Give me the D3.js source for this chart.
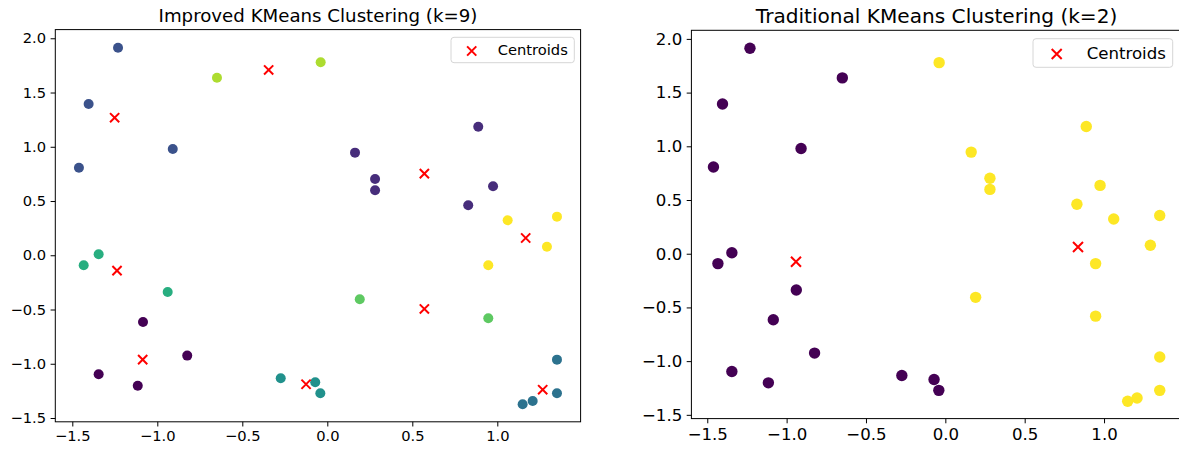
<!DOCTYPE html>
<html>
<head>
<meta charset="utf-8">
<script src="https://cdn.jsdelivr.net/npm/d3@7"></script>
<style>
    body { margin: 0; background: #fff; }
    svg { display: block; font-family: "DejaVu Sans", sans-serif; }
    .tick line { stroke: #000; stroke-width: 1; }
    .tick text { fill: #000; }
</style>
</head>
<body>
<svg width="1179" height="451"></svg>
<script>
const width = 1179;
const height = 451;

// data points (same points in both panels)
const xVals = [-1.231, -1.404, -1.461, -0.909, -0.649, -0.039, 0.888, 0.163,
    0.281, 0.281, 0.975, 0.829, 1.061, 1.351, 1.292, 0.947,
    0.191, 0.947, 1.351, 1.351, 1.208, 1.149, -0.071, -0.041,
    -0.274, -1.345, -1.433, -0.939, -1.084, -0.824, -1.345, -1.115];
const yVals = [1.913, 1.394, 0.807, 0.980, 1.637, 1.779, 1.185, 0.946,
    0.703, 0.599, 0.636, 0.461, 0.323, 0.356, 0.079, -0.092,
    -0.406, -0.581, -0.962, -1.272, -1.343, -1.373, -1.171, -1.272,
    -1.134, 0.009, -0.092, -0.338, -0.615, -0.925, -1.097, -1.202];

// cluster labels
const improvedLabels = [2, 2, 2, 2, 7, 7, 1, 1, 1, 1, 1, 1, 8, 8, 8, 8,
    6, 6, 3, 3, 3, 3, 4, 4, 4, 5, 5, 5, 0, 0, 0, 0];
const traditionalLabels = [0, 0, 0, 0, 0, 1, 1, 1, 1, 1, 1, 1, 1, 1, 1, 1,
    1, 1, 1, 1, 1, 1, 0, 0, 0, 0, 0, 0, 0, 0, 0, 0];

// centroids
const improvedCx = [-1.251, -0.345, 0.571, 1.167, 0.571, 1.267, -0.125, -1.237, -1.086];
const improvedCy = [1.268, 1.708, 0.752, 0.159, -0.495, -1.239, -1.189, -0.142, -0.962];
const traditionalCx = [-0.941, 0.836];
const traditionalCy = [-0.074, 0.062];

// axis ticks
const xTicks = [-1.5, -1.0, -0.5, 0.0, 0.5, 1.0];
const yTicks = [-1.5, -1.0, -0.5, 0.0, 0.5, 1.0, 1.5, 2.0];
const xDomain = [-1.6, 1.49];
const yDomain = [-1.535, 2.08];

const svg = d3.select("svg");

const panels = [
    {
        title: "Improved KMeans Clustering (k=9)",
        labels: improvedLabels, k: 9,
        cx: improvedCx, cy: improvedCy,
        left: 55.3, right: 580.6, top: 29.6, bottom: 421.8,
        tickFont: 14.7, titleFont: 18.2, legendFont: 14.7,
        r: 5, cross: 4.6, titleY: 21.5,
        legend: { x: 451, y: 37.3, w: 123.3, h: 25.4, mx: 471.7, tx: 497.7 }
    },
    {
        title: "Traditional KMeans Clustering (k=2)",
        labels: traditionalLabels, k: 2,
        cx: traditionalCx, cy: traditionalCy,
        left: 691.4, right: 1181.8, top: 30.3, bottom: 418.6,
        tickFont: 16.6, titleFont: 20.1, legendFont: 16.6,
        r: 5.7, cross: 5, titleY: 22.5,
        legend: { x: 1033, y: 38.7, w: 139.7, h: 28.6, mx: 1056.7, tx: 1086.7 }
    }
];

panels.forEach(p => {
    const g = svg.append("g");

    // x scale
    const xScale = d3.scaleLinear()
        .domain(xDomain)
        .range([p.left, p.right]);

    // y scale
    const yScale = d3.scaleLinear()
        .domain(yDomain)
        .range([p.bottom, p.top]);

    // frame
    g.append("rect")
        .attr("x", p.left)
        .attr("y", p.top)
        .attr("width", p.right - p.left)
        .attr("height", p.bottom - p.top)
        .attr("fill", "none")
        .attr("stroke", "#000")
        .attr("stroke-width", 1);

    // x axis
    g.append("g")
        .attr("transform", `translate(0, ${p.bottom})`)
        .call(d3.axisBottom(xScale)
            .tickValues(xTicks)
            .tickFormat(d3.format(".1f"))
            .tickSize(4.7)
            .tickPadding(4.5)
            .tickSizeOuter(0))
        .attr("font-family", "DejaVu Sans")
        .attr("font-size", p.tickFont)
        .call(a => a.select(".domain").remove());

    // y axis
    g.append("g")
        .attr("transform", `translate(${p.left}, 0)`)
        .call(d3.axisLeft(yScale)
            .tickValues(yTicks)
            .tickFormat(d3.format(".1f"))
            .tickSize(4.7)
            .tickPadding(4.5)
            .tickSizeOuter(0))
        .attr("font-family", "DejaVu Sans")
        .attr("font-size", p.tickFont)
        .call(a => a.select(".domain").remove());

    // points
    const color = l => d3.interpolateViridis(p.k > 1 ? l / (p.k - 1) : 0);

    g.selectAll(".pt")
        .data(xVals.map((x, i) => ({ x: x, y: yVals[i], label: p.labels[i] })))
        .join("circle")
        .attr("class", "pt")
        .attr("cx", d => xScale(d.x))
        .attr("cy", d => yScale(d.y))
        .attr("r", p.r)
        .attr("fill", d => color(d.label));

    // centroids
    const cross = (sel, s) => sel
        .attr("d", `M${-s},${-s}L${s},${s}M${-s},${s}L${s},${-s}`)
        .attr("stroke", "red")
        .attr("stroke-width", 2)
        .attr("fill", "none");

    g.selectAll(".centroid")
        .data(p.cx.map((x, i) => ({ x: x, y: p.cy[i] })))
        .join("path")
        .attr("class", "centroid")
        .attr("transform", d => `translate(${xScale(d.x)},${yScale(d.y)})`)
        .call(cross, p.cross);

    // title
    g.append("text")
        .attr("x", (p.left + p.right) / 2)
        .attr("y", p.titleY)
        .attr("text-anchor", "middle")
        .style("font-size", p.titleFont + "px")
        .attr("fill", "#000")
        .text(p.title);

    // legend
    const L = p.legend;
    g.append("rect")
        .attr("x", L.x)
        .attr("y", L.y)
        .attr("width", L.w)
        .attr("height", L.h)
        .attr("rx", 3)
        .attr("fill", "rgba(255,255,255,0.8)")
        .attr("stroke", "#d6d6d6")
        .attr("stroke-width", 1);

    g.append("path")
        .attr("transform", `translate(${L.mx},${L.y + L.h / 2 + 1})`)
        .call(cross, p.cross);

    g.append("text")
        .attr("x", L.tx)
        .attr("y", L.y + L.h / 2)
        .attr("dy", "0.35em")
        .style("font-size", p.legendFont + "px")
        .attr("fill", "#000")
        .text("Centroids");
});
</script>
</body>
</html>
